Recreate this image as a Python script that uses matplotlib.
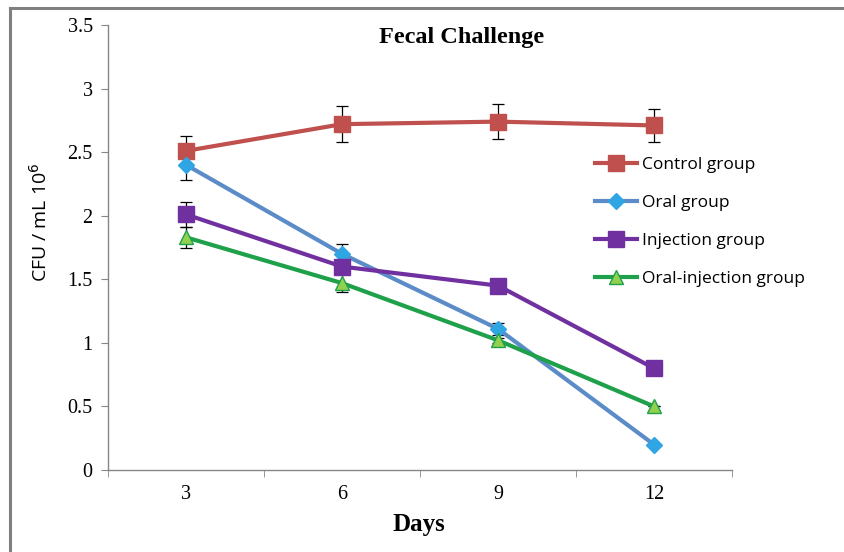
import matplotlib
matplotlib.use("Agg")
import matplotlib.pyplot as plt
from matplotlib.lines import Line2D
import numpy as np

days = ["3", "6", "9", "12"]
control = [2.51, 2.72, 2.74, 2.71]
control_err = [0.12, 0.14, 0.14, 0.13]
oral = [2.40, 1.70, 1.11, 0.20]
oral_err = [0.12, 0.08, 0.05, 0.0]
injection = [2.01, 1.60, 1.45, 0.80]
injection_err = [0.10, 0.02, 0.04, 0.0]
oral_inj = [1.83, 1.47, 1.02, 0.50]
oral_inj_err = [0.08, 0.07, 0.02, 0.0]
labels = ["Control group", "Oral group", "Injection group", "Oral-injection group"]

W, H = 844, 552
fig = plt.figure(figsize=(W / 100, H / 100), dpi=100)
ax = fig.add_axes([108 / W, 1 - 470 / H, (732 - 108) / W, (470 - 25) / H])

x = np.arange(len(days))
series = [
    (control, control_err, "#C0504D", "#C0504D", "#C0504D", "s", 11),
    (oral, oral_err, "#5B8CC8", "#2FA6E3", "#2FA6E3", "D", 8),
    (injection, injection_err, "#7030A0", "#7030A0", "#7030A0", "s", 11),
    (oral_inj, oral_inj_err, "#1FA04A", "#92D050", "#1FA04A", "^", 10),
]
handles = []
for (vals, err, lc, mfc, mec, mk, ms), lab in zip(series, labels):
    ax.errorbar(x, vals, yerr=err, fmt="none", ecolor="black", elinewidth=0.9,
                capsize=4, capthick=0.9, zorder=2)
    ax.plot(x, vals, color=lc, linewidth=3, marker=mk, markersize=ms,
            markerfacecolor=mfc, markeredgecolor=mec, markeredgewidth=1, zorder=3)
    handles.append(Line2D([0], [0], color=lc, linewidth=3, marker=mk,
                          markersize=ms, markerfacecolor=mfc,
                          markeredgecolor=mec, markeredgewidth=1))

ax.set_xlim(-0.5, len(days) - 0.5)
ax.set_ylim(0, 3.5)
ax.set_yticks(np.arange(0, 3.51, 0.5))
ax.set_yticklabels(["0", "0.5", "1", "1.5", "2", "2.5", "3", "3.5"],
                   fontfamily="Liberation Serif", fontsize=14.5)
ax.set_xticks(x)
ax.set_xticklabels(days, fontfamily="Liberation Serif", fontsize=14.5)
ax.set_xticks(np.arange(-0.5, len(days), 1.0), minor=True)
ax.tick_params(axis="x", which="major", length=0, pad=11)
ax.tick_params(axis="x", which="minor", length=5, color="#868686", direction="out")
ax.tick_params(axis="y", length=5, color="#868686", direction="out", pad=6)

for s in ["top", "right"]:
    ax.spines[s].set_visible(False)
for s in ["left", "bottom"]:
    ax.spines[s].set_color("#868686")
    ax.spines[s].set_linewidth(1)

fig.text(462 / W, 1 - 37 / H, "Fecal Challenge", ha="center", va="center",
         fontfamily="Liberation Serif", fontweight="bold", fontsize=17.5)
fig.text(419 / W, 1 - 524 / H, "Days", ha="center", va="center",
         fontfamily="Liberation Serif", fontweight="bold", fontsize=18)
fig.text(40 / W, 1 - 222 / H, "CFU / mL 10$^{6}$", ha="center", va="center",
         rotation=90, fontfamily="Open Sans", fontsize=14)

leg = ax.legend(handles, labels, loc="upper left",
                bbox_to_anchor=((588 - 108) / (732 - 108), (470 - 150) / (470 - 25)),
                frameon=False, prop={"family": "Open Sans", "size": 12.5},
                handlelength=2.4, handletextpad=0.3, labelspacing=1.25,
                borderaxespad=0)

# outer grey frame
fig.add_artist(Line2D([10 / W, 1.0], [1 - 8 / H, 1 - 8 / H], color="#808080",
                      linewidth=2.2, transform=fig.transFigure))
fig.add_artist(Line2D([10 / W, 10 / W], [0, 1 - 8 / H], color="#808080",
                      linewidth=2.2, transform=fig.transFigure))

fig.savefig("out.png", dpi=100)
